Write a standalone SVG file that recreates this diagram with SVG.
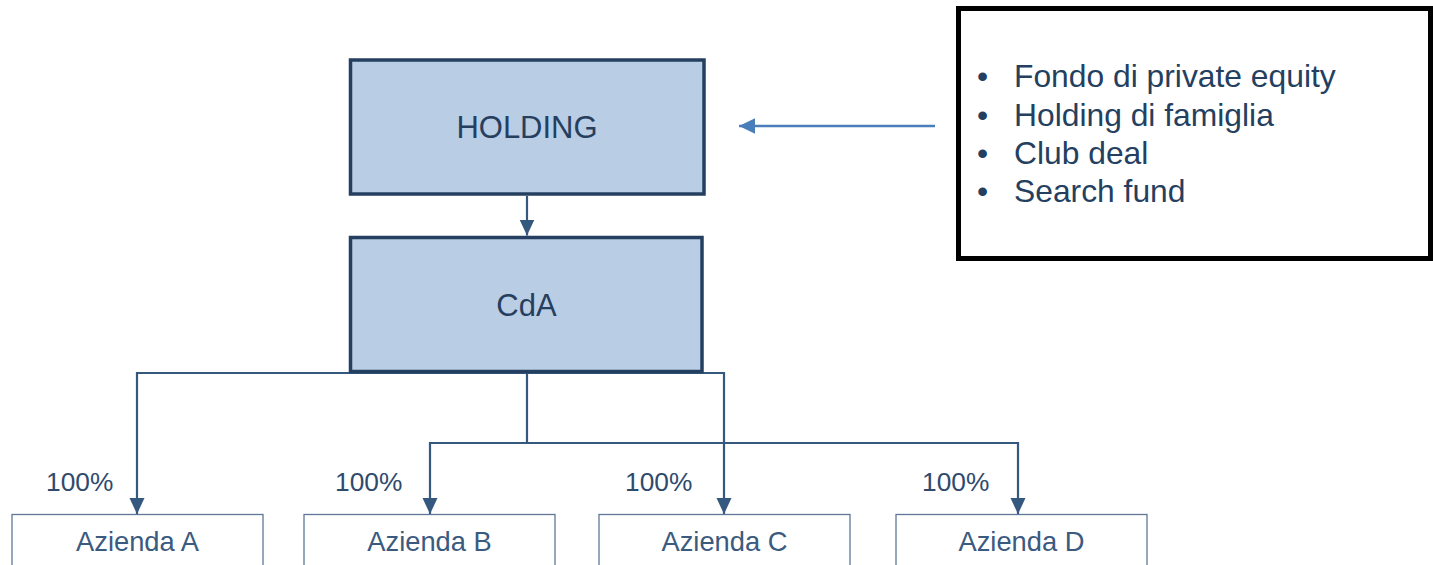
<svg xmlns="http://www.w3.org/2000/svg" width="1433" height="565" viewBox="0 0 1433 565">
  <style>
    .main { fill: #B9CDE5; stroke: #243F60; stroke-width: 3.5; }
    .sub { fill: #FFFFFF; stroke: #5F7898; stroke-width: 1.3; }
    .list { fill: #FFFFFF; stroke: #000000; stroke-width: 5; }
    .conn { fill: none; stroke: #35587F; stroke-width: 2.2; }
    .conn2 { fill: none; stroke: #4A7EBB; stroke-width: 2.4; }
    text { font-family: "Liberation Sans", Arial, sans-serif; }
    .big { font-size: 31px; fill: #263F5F; text-anchor: middle; }
    .az { font-size: 27.3px; fill: #3A5A80; text-anchor: middle; }
    .pct { font-size: 26.3px; fill: #2F4A6D; }
    .bul { font-size: 31.8px; fill: #243F60; }
  </style>
  <defs>
    <marker id="ah" markerUnits="userSpaceOnUse" markerWidth="16" markerHeight="16" viewBox="0 0 16 16" refX="16" refY="8" orient="auto">
      <path d="M0,0.5 L16,8 L0,15.5 Z" fill="#35587F"/>
    </marker>
    <marker id="ah2" markerUnits="userSpaceOnUse" markerWidth="16" markerHeight="16" viewBox="0 0 16 16" refX="16" refY="8" orient="auto">
      <path d="M0,0.3 L16,8 L0,15.7 Z" fill="#4A7EBB"/>
    </marker>
  </defs>

  <g id="connectors">
    <path class="conn" d="M527,196 V235.5" marker-end="url(#ah)"/>
    <path class="conn" d="M527,373 H137 V514" marker-end="url(#ah)"/>
    <path class="conn" d="M527,373 H724 V514" marker-end="url(#ah)"/>
    <path class="conn" d="M527,373 V443 H430 V514" marker-end="url(#ah)"/>
    <path class="conn" d="M527,443 H1018 V514" marker-end="url(#ah)"/>
    <path class="conn2" d="M935,126 H739" marker-end="url(#ah2)"/>
  </g>

  <g id="holding">
    <rect class="main" x="350.5" y="60" width="353.5" height="134"/>
    <text class="big" x="527" y="138">HOLDING</text>
  </g>

  <g id="cda">
    <rect class="main" x="350.5" y="237.5" width="351.5" height="134"/>
    <text class="big" x="526.5" y="316">CdA</text>
  </g>

  <g id="list">
    <rect class="list" x="958.5" y="8.5" width="472" height="250"/>
    <text class="bul" x="977" y="87">•</text>
    <text class="bul" x="1014" y="87">Fondo di private equity</text>
    <text class="bul" x="977" y="125.5">•</text>
    <text class="bul" x="1014" y="125.5">Holding di famiglia</text>
    <text class="bul" x="977" y="164">•</text>
    <text class="bul" x="1014" y="164">Club deal</text>
    <text class="bul" x="977" y="201.5">•</text>
    <text class="bul" x="1014" y="201.5">Search fund</text>
  </g>

  <g id="azienda-a">
    <rect class="sub" x="12" y="514.5" width="251" height="70"/>
    <text class="az" x="137.5" y="551">Azienda A</text>
    <text class="pct" x="46" y="491">100%</text>
  </g>
  <g id="azienda-b">
    <rect class="sub" x="304" y="514.5" width="251" height="70"/>
    <text class="az" x="429.5" y="551">Azienda B</text>
    <text class="pct" x="335" y="491">100%</text>
  </g>
  <g id="azienda-c">
    <rect class="sub" x="599" y="514.5" width="251" height="70"/>
    <text class="az" x="724.5" y="551">Azienda C</text>
    <text class="pct" x="625" y="491">100%</text>
  </g>
  <g id="azienda-d">
    <rect class="sub" x="896" y="514.5" width="251" height="70"/>
    <text class="az" x="1021.5" y="551">Azienda D</text>
    <text class="pct" x="922" y="491">100%</text>
  </g>
</svg>
